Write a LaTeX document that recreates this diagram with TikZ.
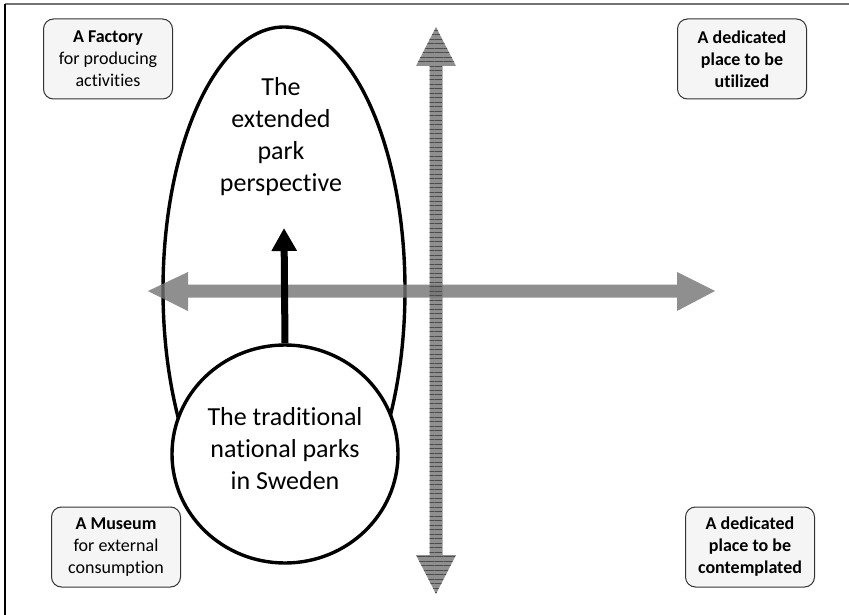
\documentclass[tikz,border=0pt]{standalone}
\usepackage{fontspec}
\setmainfont{Carlito}[Ligatures=NoCommon]
\usetikzlibrary{shapes.geometric,patterns.meta,arrows.meta}

\tikzset{
  cornerbox/.style={draw=black!80, fill=black!4, rounded corners=10pt, line width=1pt,
    minimum width=129pt, minimum height=80pt, align=center, inner sep=2pt,
    font=\fontsize{18}{22}\selectfont},
  bigtext/.style={align=center, font=\fontsize{26}{32}\selectfont},
  axisfill/.style={fill=black!55, fill opacity=0.8},
}

\begin{document}
\begin{tikzpicture}[x=1pt,y=-1pt]
  \useasboundingbox (0,0) rectangle (849,615);

  % Frame
  \draw[black!55, line width=1.5pt] (5,4) -- (849,4);
  \draw[line width=1.2pt] (5,4) -- (5,615);

  % Corner boxes
  \node[cornerbox] (factory) at (108,59) {\textbf{A Factory}\\for producing\\activities};
  \node[cornerbox] (utilized) at (742,59) {\textbf{A dedicated}\\\textbf{place to be}\\\textbf{utilized}};
  \node[cornerbox] (museum) at (116,547) {\textbf{A Museum}\\for external\\consumption};
  \node[cornerbox] (contemplated) at (750,547) {\textbf{A dedicated}\\\textbf{place to be}\\\textbf{contemplated}};

  % The extended park perspective
  \node[ellipse, draw, line width=3.4pt, minimum width=242pt, minimum height=526pt, inner sep=0pt] (extended) at (284,290) {};
  \node[bigtext] (extlabel) at (281,137) {The\\extended\\park\\perspective};

  % Axes
  \fill[axisfill] (148,291) -- (188,272) -- (188,284.5) -- (677,284.5) -- (677,272) -- (715,291)
    -- (677,311) -- (677,297.5) -- (188,297.5) -- (188,311) -- cycle;
  \fill[axisfill] (436,27) -- (456,66) -- (442.5,66) -- (442.5,555) -- (456,555) -- (436,594)
    -- (416,555) -- (429.5,555) -- (429.5,66) -- (416,66) -- cycle;
  \fill[pattern={Lines[angle=0,distance=4.5pt,line width=0.9pt]}, pattern color=black!70]
    (436,27) -- (456,66) -- (442.5,66) -- (442.5,555) -- (456,555) -- (436,594)
    -- (416,555) -- (429.5,555) -- (429.5,66) -- (416,66) -- cycle;

  % The traditional national parks
  \node[ellipse, draw, fill=white, line width=3.4pt, minimum width=226pt, minimum height=218pt,
    inner sep=0pt] (trad) at (285,454) {};
  \node[bigtext] (tradlabel) at (285,449) {The traditional\\national parks\\in Sweden};
  \coordinate (widen) at (284,228);
  \draw[line width=7pt, -{Triangle[width=24pt,length=23pt]}] (trad.north) -- (widen);
\end{tikzpicture}
\end{document}
